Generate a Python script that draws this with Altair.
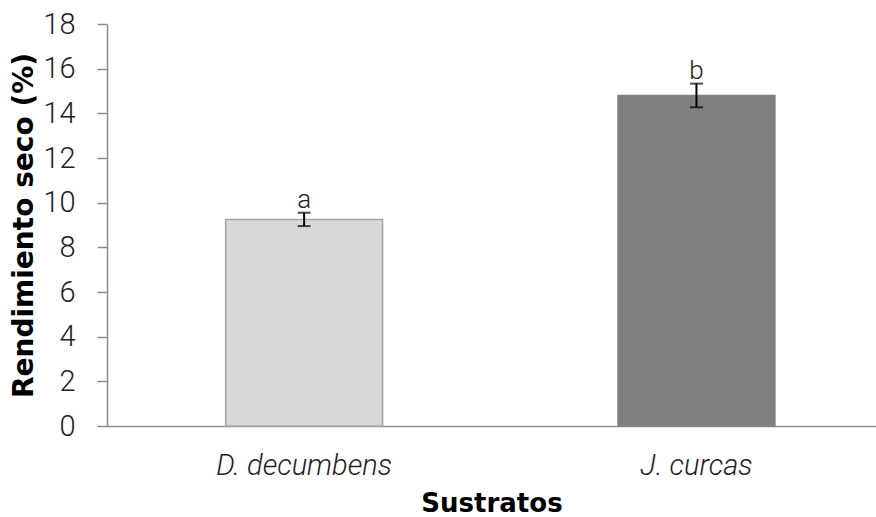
import altair as alt
import pandas as pd

# Substrate categories, mean dry yield (%), standard error and significance letters
sustratos = ["D. decumbens", "J. curcas"]
rendimiento = [9.25, 14.8]
error = [0.3, 0.53]
letras = ["a", "b"]
colores = ["#d8d8d8", "#808080"]
bordes = ["#a6a6a6", "#808080"]

df = pd.DataFrame({
    "sustrato": sustratos,
    "rend": rendimiento,
    "err": error,
    "letra": letras,
    "color": colores,
    "borde": bordes,
})
df["lo"] = df["rend"] - df["err"]
df["hi"] = df["rend"] + df["err"]

LIGHT = "Roboto"
BOLD = "DejaVu Sans"

x = alt.X(
    "sustrato:N",
    sort=sustratos,
    title="Sustratos",
    scale=alt.Scale(paddingInner=0.6, paddingOuter=0.28, align=0.54),
    axis=alt.Axis(
        labelAngle=0,
        labelFont=LIGHT,
        labelFontWeight=300,
        labelFontStyle="italic",
        labelFontSize=29,
        labelColor="#222",
        labelPadding=25,
        ticks=False,
        domainColor="#8c8c8c",
        domainWidth=1.5,
        titleFont=BOLD,
        titleFontWeight="bold",
        titleFontSize=26,
        titleColor="#000",
        titlePadding=10,
    ),
)

y_scale = alt.Scale(domain=[0, 18], nice=False)
y_axis = alt.Axis(
    values=list(range(0, 19, 2)),
    grid=False,
    labelFont=LIGHT,
    labelFontWeight=300,
    labelFontSize=29,
    labelColor="#222",
    labelPadding=22,
    tickSize=10,
    tickColor="#8c8c8c",
    tickWidth=1.5,
    domainColor="#8c8c8c",
    domainWidth=1.5,
    titleFont=BOLD,
    titleFontWeight="bold",
    titleFontSize=28,
    titleColor="#000",
    titlePadding=4,
)

base = alt.Chart(df)

bars = base.mark_bar(strokeWidth=1.5).encode(
    x=x,
    y=alt.Y("rend:Q", title="Rendimiento seco (%)", scale=y_scale, axis=y_axis),
    fill=alt.Color("color:N", scale=None),
    stroke=alt.Color("borde:N", scale=None),
)

rule = base.mark_rule(color="#000", strokeWidth=2).encode(
    x=alt.X("sustrato:N", sort=sustratos),
    y="lo:Q",
    y2="hi:Q",
)

cap_lo = base.mark_tick(color="#000", size=13, thickness=2, orient="horizontal").encode(
    x=alt.X("sustrato:N", sort=sustratos),
    y="lo:Q",
)
cap_hi = base.mark_tick(color="#000", size=13, thickness=2, orient="horizontal").encode(
    x=alt.X("sustrato:N", sort=sustratos),
    y="hi:Q",
)

labels = base.mark_text(
    font=LIGHT, fontWeight=300, fontSize=26, color="#222", baseline="bottom", dy=0
).encode(
    x=alt.X("sustrato:N", sort=sustratos),
    y="hi:Q",
    text="letra:N",
)

chart = (
    alt.layer(bars, rule, cap_lo, cap_hi, labels)
    .properties(
        width=769,
        height=402,
        autosize=alt.AutoSizeParams(type="none"),
        padding={"left": 107, "top": 24, "right": 0, "bottom": 91},
        background="white",
    )
    .configure_view(stroke=None)
)

chart.save("out.html", embed_options={"renderer": "svg", "actions": False})
